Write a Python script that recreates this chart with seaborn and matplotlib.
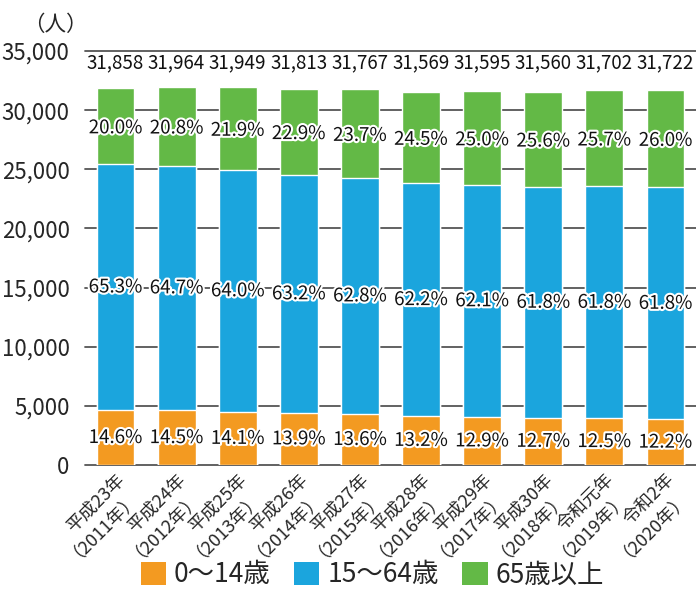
import matplotlib
matplotlib.use("Agg")
import matplotlib.pyplot as plt
import matplotlib.patheffects as pe
from matplotlib.patches import Patch
import numpy as np
import pandas as pd
import seaborn as sns

# 年齢3区分別人口の推移
years = ["平成23年\n（2011年）", "平成24年\n（2012年）", "平成25年\n（2013年）",
         "平成26年\n（2014年）", "平成27年\n（2015年）", "平成28年\n（2016年）",
         "平成29年\n（2017年）", "平成30年\n（2018年）", "令和元年\n（2019年）",
         "令和2年\n（2020年）"]
totals = [31858, 31964, 31949, 31813, 31767, 31569, 31595, 31560, 31702, 31722]
pct_0_14 = [14.6, 14.5, 14.1, 13.9, 13.6, 13.2, 12.9, 12.7, 12.5, 12.2]
pct_15_64 = [65.3, 64.7, 64.0, 63.2, 62.8, 62.2, 62.1, 61.8, 61.8, 61.8]
pct_65 = [20.0, 20.8, 21.9, 22.9, 23.7, 24.5, 25.0, 25.6, 25.7, 26.0]
series_names = ["0～14歳", "15～64歳", "65歳以上"]
colors = ["#F39A21", "#1BA5DD", "#63B946"]

sns.set_theme(style="white")
plt.rcParams["font.family"] = ["Noto Sans CJK JP", "DejaVu Sans"]

tot = np.array(totals, dtype=float)
young = tot * np.array(pct_0_14) / 100
working = tot * np.array(pct_15_64) / 100
cum_young = young
cum_working = young + working

df = pd.DataFrame({"year": years, "total": tot,
                   "cum_working": cum_working, "cum_young": cum_young})

fig = plt.figure(figsize=(6.96, 5.89), dpi=100)
ax = fig.add_axes([0.122, 0.2105, 0.878, 0.7029])

# grid lines behind bars
for v in range(0, 35001, 5000):
    ax.axhline(v, color="#555555", lw=1.3, zorder=0, clip_on=False)

w = 0.62
sns.barplot(data=df, x="year", y="total", color=colors[2], width=w,
            saturation=1, ax=ax, zorder=2)
sns.barplot(data=df, x="year", y="cum_working", color=colors[1], width=w,
            saturation=1, ax=ax, zorder=3)
sns.barplot(data=df, x="year", y="cum_young", color=colors[0], width=w,
            saturation=1, ax=ax, zorder=4)

ax.set_ylim(0, 35000)
ax.set_xlim(-0.5, len(years) - 0.5)
ax.set_xlabel("")
ax.set_ylabel("")
sns.despine(ax=ax, left=True, bottom=True, top=True, right=True)

ax.set_yticks(range(0, 35001, 5000))
ax.set_yticklabels([f"{v:,}" for v in range(0, 35001, 5000)], fontsize=16)
ax.tick_params(axis="y", length=0, pad=11)
ax.tick_params(axis="x", length=0, pad=4)
ax.set_xticks(range(len(years)))
ax.set_xticklabels(years, rotation=45, ha="right", rotation_mode="anchor",
                   fontsize=13, linespacing=0.9)

stroke = [pe.withStroke(linewidth=3, foreground="white")]
for i in range(len(years)):
    ax.text(i, 34000, f"{totals[i]:,}", ha="center", va="center",
            fontsize=13.5, color="#111111", zorder=6)
    ax.text(i, (cum_working[i] + tot[i]) / 2 - 150, f"{pct_65[i]:.1f}%",
            ha="center", va="center", fontsize=13.5, color="#111111",
            path_effects=stroke, zorder=6)
    ax.text(i, (cum_young[i] + cum_working[i]) / 2, f"{pct_15_64[i]:.1f}%",
            ha="center", va="center", fontsize=13.5, color="#111111",
            path_effects=stroke, zorder=6)
    ax.text(i, cum_young[i] / 2, f"{pct_0_14[i]:.1f}%",
            ha="center", va="center", fontsize=13.5, color="#111111",
            path_effects=stroke, zorder=6)

fig.text(0.08, 0.958, "（人）", ha="center", va="center", fontsize=15.5)

handles = [Patch(facecolor=c, edgecolor="none") for c in colors]
fig.legend(handles, series_names, loc="center", bbox_to_anchor=(0.535, 0.024),
           ncol=3, frameon=False, fontsize=19, handlelength=0.95,
           handleheight=0.95, handletextpad=0.3, columnspacing=0.9)

fig.savefig("out.png", dpi=100)
